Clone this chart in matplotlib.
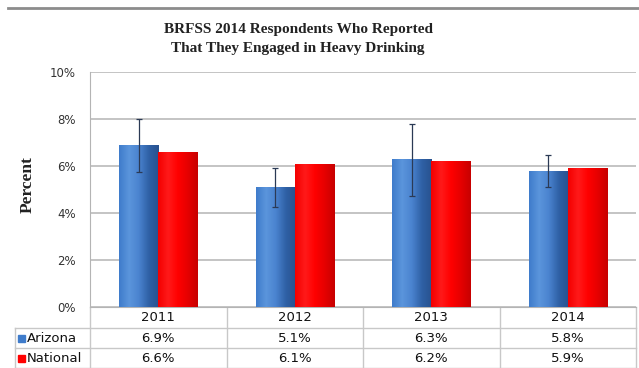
import numpy as np
import matplotlib.pyplot as plt
from matplotlib import transforms
from matplotlib.colors import LinearSegmentedColormap

years = ['2011', '2012', '2013', '2014']
arizona = [6.9, 5.1, 6.3, 5.8]
national = [6.6, 6.1, 6.2, 5.9]
az_low = [5.73, 4.26, 4.73, 5.12]
az_high = [8.0, 5.93, 7.8, 6.45]
yticks = [0, 2, 4, 6, 8, 10]

W, H = 639, 368
fig = plt.figure(figsize=(W / 100, H / 100), dpi=100)
ax = fig.add_axes([90 / W, 1 - 307 / H, (636 - 90) / W, (307 - 72) / H])

x = np.arange(len(years))
bw = 0.286
grid_c = '#b4b4b4'
line_c = '#c8c8c8'

# bars with a soft horizontal gradient
blue_cm = LinearSegmentedColormap.from_list('b', ['#3f7ccb', '#5b95dc', '#4a83cf', '#2f61a6', '#28528f'])
red_cm = LinearSegmentedColormap.from_list('r', ['#f40000', '#ff1a1a', '#ff0000', '#e60000', '#c80000'])
grad = np.linspace(0, 1, 64).reshape(1, -1)
for vals, off, cm in [(arizona, -bw / 2, blue_cm), (national, bw / 2, red_cm)]:
    bars = ax.bar(x + off, vals, bw, color='none', edgecolor='none', zorder=3)
    for b in bars:
        x0, y0 = b.get_x(), b.get_y()
        im = ax.imshow(grad, cmap=cm, aspect='auto', zorder=3,
                       extent=[x0, x0 + b.get_width(), y0, y0 + b.get_height()])
        im.set_clip_path(b)

# error bars on Arizona
az = np.array(arizona)
yerr = [az - np.array(az_low), np.array(az_high) - az]
ax.errorbar(x - bw / 2, az, yerr=yerr, fmt='none', ecolor='#2b3a55',
            elinewidth=0.9, capsize=2.5, capthick=0.9, zorder=4)

ax.set_xlim(-0.5, 3.5)
ax.set_ylim(0, 10)
ax.set_yticks(yticks)
ax.set_yticklabels([f'{t}%' for t in yticks], family='DejaVu Sans', fontsize=8.5, color='#333333')
ax.set_xticks([])
ax.tick_params(axis='y', length=0, pad=10)
ax.yaxis.grid(True, color=grid_c, linewidth=1.1)
ax.set_axisbelow(True)
for s in ['top', 'right']:
    ax.spines[s].set_visible(False)
ax.spines['left'].set_color(grid_c)
ax.spines['bottom'].set_color(grid_c)

fig.text(28 / W, 1 - 185 / H, 'Percent', rotation=90, ha='center', va='center',
         family='Liberation Serif', fontweight='bold', fontsize=12.5, color='#222222')

fig.text(298 / W, 1 - 39 / H, 'BRFSS 2014 Respondents Who Reported\nThat They Engaged in Heavy Drinking',
         ha='center', va='center', family='Liberation Serif', fontweight='bold',
         fontsize=11, linespacing=1.55, color='#222222')

# top rule
fig.add_artist(plt.Line2D([8 / W, 1], [1 - 8 / H] * 2, color='#8c8c8c', linewidth=2))

# data table below the axes
tr = transforms.blended_transform_factory(ax.transData, fig.transFigure)
rows_y = [307, 328, 348, 368]
fy = lambda p: 1 - p / H
for i, p in enumerate(rows_y[1:]):
    fig.add_artist(plt.Line2D([15 / W, 636 / W], [fy(p)] * 2, color=line_c, linewidth=1))
for b in np.arange(-0.5, 4, 1):
    ax.plot([b, b], [fy(307), fy(368)], transform=tr, color=line_c, linewidth=1, clip_on=False)
fig.add_artist(plt.Line2D([15 / W] * 2, [fy(328), fy(368)], color=line_c, linewidth=1))

tfont = dict(family='DejaVu Sans', fontsize=9.5, color='#111111', ha='center', va='center')
for i, yr in enumerate(years):
    ax.text(i, fy(317.5), yr, transform=tr, **tfont)
    ax.text(i, fy(338), f'{arizona[i]:.1f}%', transform=tr, **tfont)
    ax.text(i, fy(358), f'{national[i]:.1f}%', transform=tr, **tfont)

for label, col, p in [('Arizona', '#3f7ccb', 338), ('National', '#ff0000', 358)]:
    fig.patches.append(plt.Rectangle((18 / W, fy(p + 3.5)), 7 / W, 7 / H, color=col,
                                     transform=fig.transFigure, figure=fig))
    fig.text(27 / W, fy(p), label, ha='left', va='center', family='DejaVu Sans',
             fontsize=9.5, color='#111111')

fig.savefig('out.png', dpi=100)
